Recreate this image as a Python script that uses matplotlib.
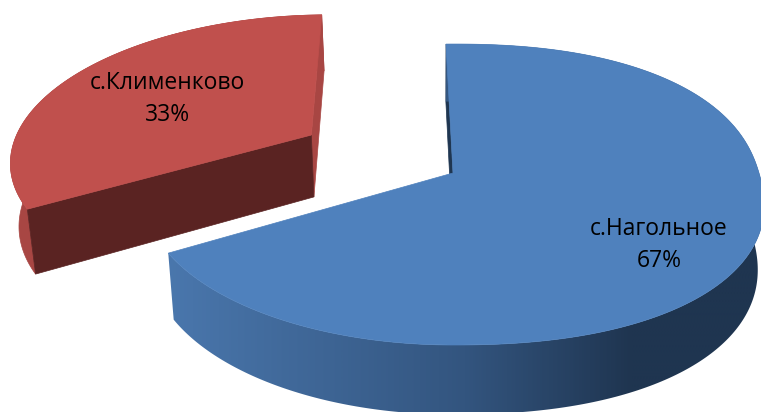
import numpy as np
import matplotlib
matplotlib.use('Agg')
import matplotlib.pyplot as plt
from matplotlib.patches import Polygon
from matplotlib.colors import LinearSegmentedColormap

labels = ['с.Нагольное', 'с.Клименково']
values = [67, 33]

plt.rcParams['font.family'] = ['Open Sans', 'DejaVu Sans']

# pie geometry in picture pixels, k is the perspective of the tilted disc
cx, cy = 453, 173
a, b, k = 306, 147.4, 0.143
start = 91.5
explode = 0.55


def rim(angles):
    # the right half of the rim in the picture is fuller than an ellipse
    c, s = np.cos(angles), np.sin(angles)
    n = np.where(c > 0, 2.25, 2.0)
    r = (np.abs(c) ** n + np.abs(s) ** n) ** (-1 / n)
    return r * c, r * s


def top(X, Y):
    w = 1 + k * Y
    return cx + a * X / w, cy - b * Y / w


def bottom(X, Y):
    x, y = top(X, Y)
    return x + (440 - x) * 0.02, y + 63.5 - 6 * Y


def poly(x, y, color, z):
    p = Polygon(np.column_stack([x, y]), closed=True, fc=color, ec=color, lw=0.5, zorder=z)
    ax.add_patch(p)
    return p


fig = plt.figure(figsize=(7.61, 4.12), dpi=100)
ax = fig.add_axes([0, 0, 1, 1])
ax.set_xlim(0, 761)
ax.set_ylim(412, 0)
ax.axis('off')

sweep = np.array(values) / sum(values) * 360

# Klimenkovo piece, pulled out along the middle of its slice
t1 = start
t2 = start + sweep[1]
mid = np.radians((t1 + t2) / 2)
X0, Y0 = explode * np.cos(mid), explode * np.sin(mid)
th = np.radians(np.linspace(t1, t2, 120))
Xr, Yr = rim(th)
Xr, Yr = X0 + Xr, Y0 + Yr

x_t, y_t = top(Xr, Yr)
x_b, y_b = bottom(Xr, Yr)
ax_, ay_ = top(X0, Y0)
bx_, by_ = bottom(X0, Y0)
poly(np.r_[x_t, x_b[::-1]], np.r_[y_t, y_b[::-1]], '#a84643', 1)
poly([x_t[0], ax_, bx_, x_b[0]], [y_t[0], ay_, by_, y_b[0]], '#a84643', 2)
poly([x_t[-1], ax_, bx_, x_b[-1]], [y_t[-1], ay_, by_, y_b[-1]], '#5a2322', 2)
poly(np.r_[ax_, x_t], np.r_[ay_, y_t], '#c0504d', 3)

# Nagolnoe piece, goes clockwise from the same start angle
th = np.radians(np.linspace(start, start - sweep[0], 300))
Xb, Yb = rim(th)
x_t, y_t = top(Xb, Yb)
x_b, y_b = bottom(Xb, Yb)
ax_, ay_ = top(0, 0)
bx_, by_ = bottom(0, 0)

poly([x_t[0], ax_, bx_, x_b[0]], [y_t[0], ay_, by_, y_b[0]], '#1f3651', 4)

side = poly(np.r_[x_t, x_b[::-1]], np.r_[y_t, y_b[::-1]], 'none', 5)
side.set_edgecolor('none')
grad = LinearSegmentedColormap.from_list('side', [(0, '#4a77ad'), (0.5, '#33557f'), (0.78, '#1f3550'), (1, '#1f3550')])
img = ax.imshow(np.linspace(0, 1, 400).reshape(1, -1), cmap=grad, extent=[165, 765, 412, 0],
                aspect='auto', zorder=5)
img.set_clip_path(side)
ax.set_xlim(0, 761)
ax.set_ylim(412, 0)

poly(np.r_[ax_, x_t], np.r_[ay_, y_t], '#4f81bd', 6)

# data labels
for i, (px, py) in enumerate([(659, 245), (167, 99)]):
    ax.text(px, py, '%s\n%d%%' % (labels[i], values[i]), ha='center', va='center',
            fontsize=16.5, color='black', linespacing=1.45, zorder=7)

fig.savefig('out.png', dpi=100)
